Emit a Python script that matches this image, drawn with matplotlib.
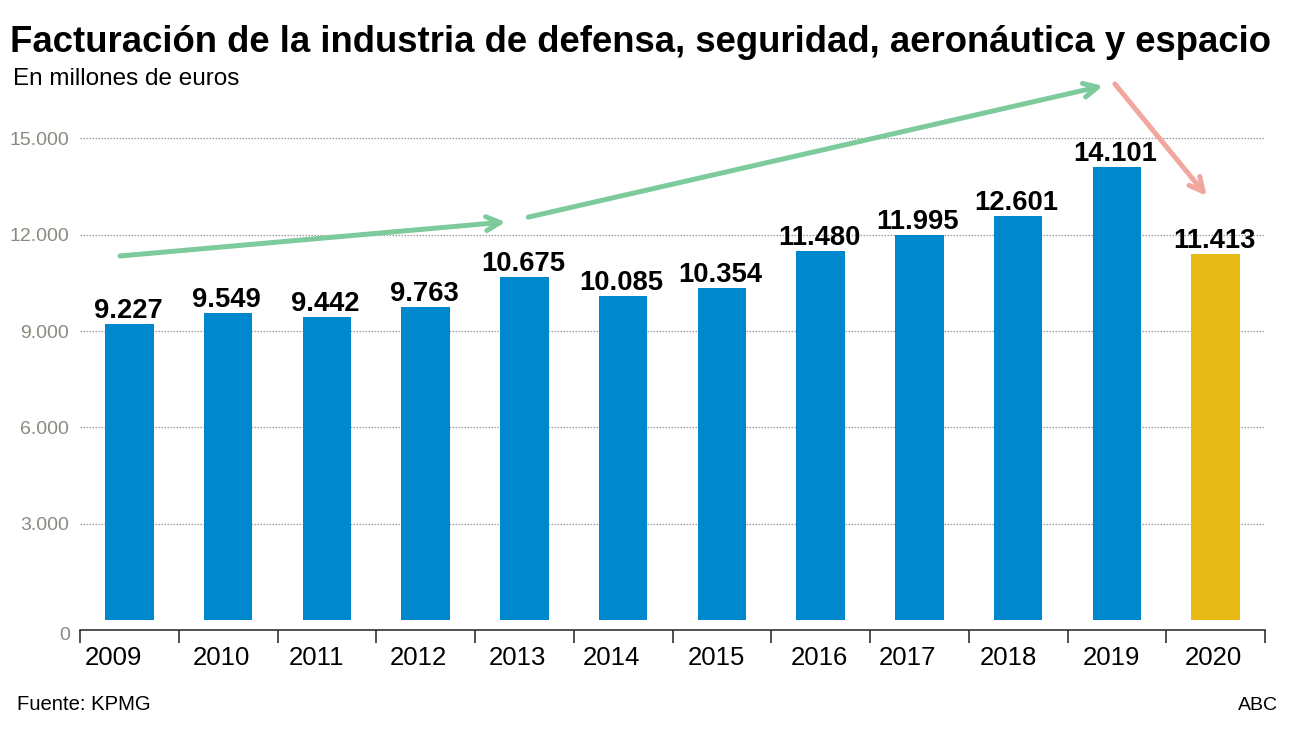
import matplotlib
matplotlib.use("Agg")
import matplotlib.pyplot as plt
from matplotlib import font_manager
import numpy as np

years = ["2009", "2010", "2011", "2012", "2013", "2014", "2015", "2016", "2017", "2018", "2019", "2020"]
values = [9227, 9549, 9442, 9763, 10675, 10085, 10354, 11480, 11995, 12601, 14101, 11413]
value_labels = ["9.227", "9.549", "9.442", "9.763", "10.675", "10.085", "10.354", "11.480", "11.995", "12.601", "14.101", "11.413"]
yticks = [3000, 6000, 9000, 12000, 15000]
ytick_labels = ["3.000", "6.000", "9.000", "12.000", "15.000"]

# trend arrows (start x, start y, end x, end y) in data units
green_arrows = [(-0.095, 11340, 3.81, 12400), (4.04, 12550, 9.86, 16640)]
red_arrow = (9.98, 16700, 10.91, 13210)

BLUE = "#0088CE"
GOLD = "#E6B914"
GREEN = "#7DCB9D"
RED = "#F0A79E"
GRAY = "#8A8A7E"

plt.rcParams['font.family'] = ['Liberation Sans', 'DejaVu Sans']
names = {f.name for f in font_manager.fontManager.ttflist}
narrow = ['Liberation Sans Narrow', 'Liberation Sans'] if 'Liberation Sans Narrow' in names else ['Liberation Sans']
narrow_size = 17 if 'Liberation Sans Narrow' in names else 14

W, H = 1292, 731
fig = plt.figure(figsize=(W / 100, H / 100), dpi=100)
ymax = 17000
px_per_unit = 96.3 / 3000
cat_px = 1185 / 12
top_px = 620 - ymax * px_per_unit
ax = fig.add_axes([80 / W, (H - 620) / H, 1185 / W, (620 - top_px) / H])

x = np.arange(len(years))
colors = [BLUE] * (len(years) - 1) + [GOLD]
ax.bar(x, values, width=0.49, color=colors, zorder=2)

for xi, v, lab in zip(x, values, value_labels):
    ax.annotate(lab, (xi, v), xytext=(-1, 0), textcoords="offset points",
                ha="center", va="bottom", fontsize=19.7, fontweight="bold", color="black", zorder=4)

ax.set_xlim(-0.5, len(years) - 0.5)
ax.set_ylim(0, ymax)

ax.set_yticks(yticks)
ax.set_yticklabels(ytick_labels)
ax.tick_params(axis="y", length=0, pad=8, labelsize=narrow_size, labelcolor=GRAY)
for t in ax.get_yticklabels():
    t.set_family(narrow)
ax.yaxis.grid(True, color="#999999", linestyle=(0, (1.2, 1.2)), linewidth=0.9, zorder=0)
ax.text(-0.5 - 10 / cat_px, -15 / px_per_unit, "0", ha="right", va="center",
        fontsize=narrow_size, color=GRAY, family=narrow)

# boundary ticks
ax.set_xticks(np.arange(-0.5, len(years), 1.0))
ax.set_xticklabels([])
ax.tick_params(axis="x", which="major", length=9.4, width=1.1, color="#222222", direction="out")

# year labels, slightly left of the bar centres as in the original
label_dx_px = [-16, -7, -10, -7, -7, -12, -5, -1, -12, -10, -5, -2]
for xi, yr, dx in zip(x, years, label_dx_px):
    ax.annotate(yr, (xi, 0), xytext=(dx * 0.72, -27.5), textcoords="offset points",
                ha="center", va="center", fontsize=18.5, color="black", annotation_clip=False)

for s in ["top", "right", "left"]:
    ax.spines[s].set_visible(False)
ax.spines["bottom"].set_position(("outward", 7.2))
ax.spines["bottom"].set_linewidth(1.1)
ax.spines["bottom"].set_color("#222222")

def arrow(x0, y0, x1, y1, color):
    ax.annotate("", xy=(x1, y1), xytext=(x0, y0),
                arrowprops=dict(arrowstyle="->,head_length=1.0,head_width=0.5", color=color, lw=3.6,
                                shrinkA=0, shrinkB=0),
                annotation_clip=False, zorder=5)

for (x0, y0, x1, y1) in green_arrows:
    arrow(x0, y0, x1, y1, GREEN)
arrow(*red_arrow, RED)

fig.text(10 / W, 1 - 42 / H, "Facturación de la industria de defensa, seguridad, aeronáutica y espacio",
         fontsize=26.3, fontweight="bold", ha="left", va="center")
fig.text(13 / W, 1 - 79 / H, "En millones de euros", fontsize=17.5, ha="left", va="center")
fig.text(17 / W, 1 - 704 / H, "Fuente: KPMG", fontsize=14.6, ha="left", va="center")
fig.text(1278 / W, 1 - 706 / H, "ABC", fontsize=14, ha="right", va="center")

fig.savefig("out.png", dpi=100)
